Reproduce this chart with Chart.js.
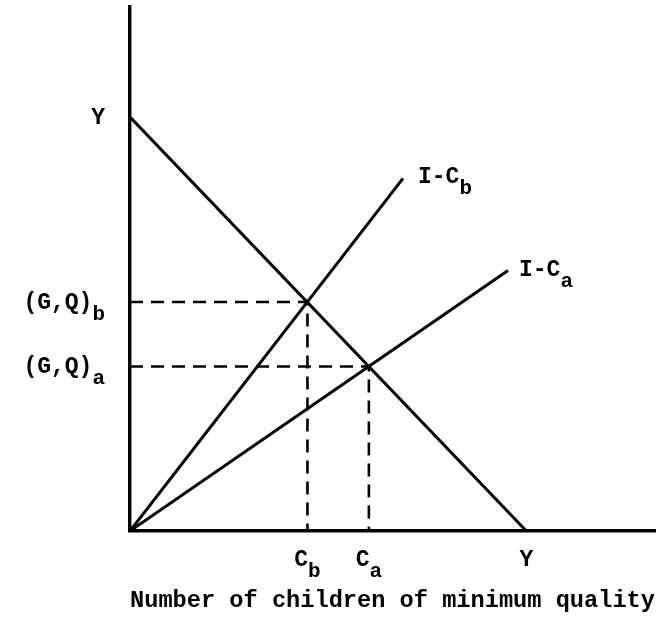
<!DOCTYPE html>
<html>
<head>
<meta charset="utf-8">
<script src="https://cdn.jsdelivr.net/npm/chart.js@4"></script>
<style>
  body { margin: 0; background: #fff; }
  #wrap { width: 666px; height: 618px; }
</style>
</head>
<body>
<div id="wrap"><canvas id="chart" width="666" height="618"></canvas></div>
<script>
// Dati del grafico (unità arbitrarie, assi 0..10)
const budgetX = [0, 7.55];      // retta Y - Y
const budgetY = [7.9, 0];
const rayBX = [0, 5.2];         // retta I-C_b
const rayBY = [0, 6.73];
const rayAX = [0, 7.2];         // retta I-C_a
const rayAY = [0, 4.97];
const eqX = [3.38, 4.55];       // C_b, C_a
const eqY = [4.37, 3.14];       // (G,Q)_b, (G,Q)_a

// Etichette degli assi: [testo, pedice]
const xTickValues = [eqX[0], eqX[1], budgetX[1]];
const xTickLabels = [['C', 'b'], ['C', 'a'], ['Y', '']];
const yTickValues = [budgetY[0], eqY[0], eqY[1]];
const yTickLabels = [['Y', ''], ['(G,Q)', 'b'], ['(G,Q)', 'a']];
const lineLabels = [['I-C', 'b'], ['I-C', 'a']];

const MONO = '"Liberation Mono", "DejaVu Sans Mono", monospace';
const INK = '#000';

function pts(xs, ys) {
    return xs.map(function(x, i) { return { x: x, y: ys[i] }; });
}

// Testo con pedice
function drawLabel(ctx, main, sub, x, y, align) {
    ctx.font = 'bold 23px ' + MONO;
    const w1 = ctx.measureText(main).width;
    ctx.font = 'bold 21px ' + MONO;
    const w2 = sub ? ctx.measureText(sub).width : 0;
    let left = x;
    if (align === 'center') left = x - (w1 + w2) / 2;
    else if (align === 'right') left = x - w1 - w2;
    ctx.textAlign = 'left';
    ctx.textBaseline = 'alphabetic';
    ctx.fillStyle = INK;
    ctx.font = 'bold 23px ' + MONO;
    ctx.fillText(main, left, y + 7);
    if (sub) {
        ctx.font = 'bold 21px ' + MONO;
        ctx.fillText(sub, left + w1, y + 18);
    }
}

const labelPlugin = {
    id: 'labelPlugin',
    afterDraw: function(chart) {
        const ctx = chart.ctx;
        const xs = chart.scales.x;
        const ys = chart.scales.y;
        const area = chart.chartArea;
        ctx.save();
        xTickValues.forEach(function(v, i) {
            drawLabel(ctx, xTickLabels[i][0], xTickLabels[i][1], xs.getPixelForValue(v), area.bottom + 28, 'center');
        });
        yTickValues.forEach(function(v, i) {
            drawLabel(ctx, yTickLabels[i][0], yTickLabels[i][1], area.left - 25, ys.getPixelForValue(v), 'right');
        });
        // Etichette alla fine delle rette
        drawLabel(ctx, lineLabels[0][0], lineLabels[0][1], xs.getPixelForValue(rayBX[1]) + 15, ys.getPixelForValue(rayBY[1]) - 2, 'left');
        drawLabel(ctx, lineLabels[1][0], lineLabels[1][1], xs.getPixelForValue(rayAX[1]) + 11, ys.getPixelForValue(rayAY[1]) - 2, 'left');
        ctx.restore();
    }
};

const solid = { borderColor: INK, borderWidth: 3, pointRadius: 0, showLine: true, fill: false, tension: 0 };
const dashed = { borderColor: INK, borderWidth: 2.6, borderDash: [13, 8], pointRadius: 0, showLine: true, fill: false, tension: 0 };

new Chart(document.getElementById('chart'), {
    type: 'scatter',
    data: {
        datasets: [
            Object.assign({ data: pts(budgetX, budgetY) }, solid),
            Object.assign({ data: pts(rayBX, rayBY) }, solid),
            Object.assign({ data: pts(rayAX, rayAY) }, solid),
            Object.assign({ data: [{ x: 0, y: eqY[0] }, { x: eqX[0], y: eqY[0] }, { x: eqX[0], y: 0 }] }, dashed),
            Object.assign({ data: [{ x: 0, y: eqY[1] }, { x: eqX[1], y: eqY[1] }, { x: eqX[1], y: 0 }] }, dashed)
        ]
    },
    options: {
        responsive: false,
        animation: false,
        layout: { padding: { top: 7, right: 11, left: 0, bottom: 0 } },
        plugins: { legend: { display: false }, tooltip: { enabled: false } },
        scales: {
            x: {
                type: 'linear', min: 0, max: 10,
                grid: { display: false },
                border: { display: true, color: INK, width: 3.4 },
                ticks: { display: false },
                title: {
                    display: true,
                    text: 'Number of children of minimum quality',
                    color: INK,
                    font: { family: MONO, size: 24, weight: 'bold' },
                    padding: { top: 0, bottom: 3 }
                },
                afterFit: function(scale) { scale.height = 87; }
            },
            y: {
                type: 'linear', min: 0, max: 10,
                grid: { display: false },
                border: { display: true, color: INK, width: 3.4 },
                ticks: { display: false },
                afterFit: function(scale) { scale.width = 130; }
            }
        }
    },
    plugins: [labelPlugin]
});
</script>
</body>
</html>
